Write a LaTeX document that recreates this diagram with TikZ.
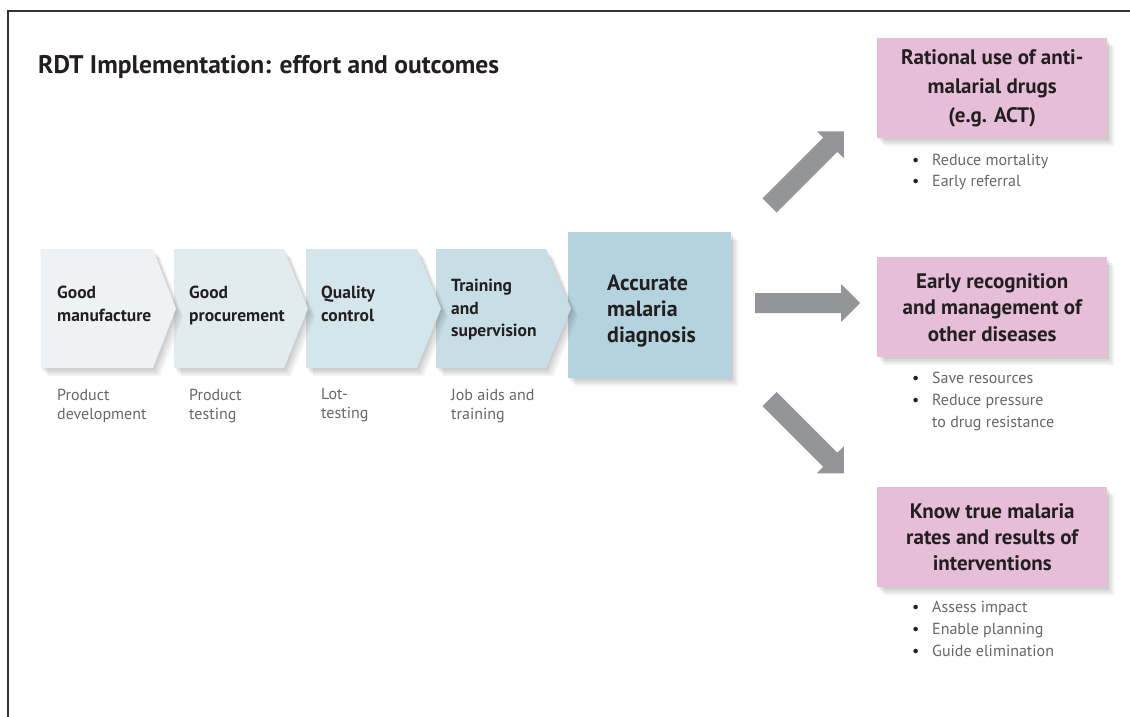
\documentclass[tikz,border=0pt]{standalone}
\usepackage{fontspec}
\setmainfont{PT Sans}
\definecolor{cA}{HTML}{EEF2F5}
\definecolor{cB}{HTML}{E2EBF0}
\definecolor{cC}{HTML}{D5E5EC}
\definecolor{cD}{HTML}{C8DEE6}
\definecolor{cBox}{HTML}{B3D4DF}
\definecolor{pinkc}{HTML}{E6BED8}
\definecolor{arrowgray}{HTML}{939598}
\definecolor{darktxt}{HTML}{231F20}
\definecolor{lighttxt}{HTML}{66676A}
\definecolor{framec}{HTML}{333333}
\tikzset{
  shad/.style={
    preaction={fill=black, fill opacity=0.05, transform canvas={xshift=7pt,yshift=-8pt}},
    preaction={fill=black, fill opacity=0.05, transform canvas={xshift=5pt,yshift=-6pt}},
    preaction={fill=black, fill opacity=0.05, transform canvas={xshift=3pt,yshift=-4pt}},
    preaction={fill=black, fill opacity=0.05, transform canvas={xshift=1.5pt,yshift=-2pt}}},
  steptext/.style={anchor=north west, inner sep=0pt, align=left, text=darktxt, font=\fontsize{17.5}{22.5}\selectfont\bfseries},
  sublabel/.style={anchor=north west, inner sep=0pt, align=left, text=lighttxt, font=\fontsize{16}{19}\selectfont},
  pinkbox/.style={fill=pinkc, shad, minimum width=230pt, minimum height=100pt, anchor=north west, inner sep=0pt, align=center, text=darktxt},
  bullets/.style={anchor=north west, inner sep=0pt, align=left, text=lighttxt},
  fatarrow/.pic={\fill[arrowgray] (0,-10) -- (86,-10) -- (86,-19) -- (105,0) -- (86,19) -- (86,10) -- (0,10) -- cycle;}
}
\newcommand{\bul}{\makebox[20pt][l]{\textcolor{darktxt}{\textbullet}}}
\begin{document}
\begin{tikzpicture}[x=1pt,y=-1pt]
\useasboundingbox (0,0) rectangle (1130,717);
\fill[white] (0,0) rectangle (1130,717);
% frame
\draw[line width=1.3pt, framec] (8,717) -- (8,11) -- (1130,11);
% title
\node[anchor=base west, inner sep=0pt, text=darktxt, font=\fontsize{25.5}{30}\selectfont\bfseries] (title) at (38,74) {RDT Implementation: effort and outcomes};
% diagnosis box
\node[fill=cBox, shad, minimum width=163pt, minimum height=146pt, anchor=north west, inner sep=0pt] (acc) at (568,232) {};
\node[anchor=west, inner sep=0pt, align=left, text=darktxt, font=\fontsize{22}{26}\selectfont\bfseries] (acctext) at (607,311) {Accurate\\malaria\\diagnosis};
% chevrons (drawn right to left so tips overlap)
\fill[cD, shad] (436,249) -- (546,249) -- (571,308.5) -- (546,368) -- (436,368) -- cycle;
\fill[cC, shad] (306,249) -- (417,249) -- (441,308.5) -- (417,368) -- (306,368) -- cycle;
\fill[cB, shad] (174,249) -- (284,249) -- (308,308.5) -- (284,368) -- (174,368) -- cycle;
\fill[cA, shad] (40.5,249) -- (153,249) -- (176,308.5) -- (153,368) -- (40.5,368) -- cycle;
\node[steptext] (t1) at (57,286) {Good\\manufacture};
\node[steptext] (t2) at (189,286) {Good\\procurement};
\node[steptext] (t3) at (321,286) {Quality\\control};
\node[steptext] (t4) at (451,279) {Training\\and\\supervision};
\node[sublabel] (l1) at (57,388.5) {Product\\development};
\node[sublabel] (l2) at (189,388.5) {Product\\testing};
\node[sublabel] (l3) at (321,388.5) {Lot-\\testing};
\node[sublabel] (l4) at (451,388.5) {Job aids and\\training};
% block arrows
\pic[rotate=45] at (769.5,205.5) {fatarrow};
\pic at (755,303) {fatarrow};
\pic[rotate=-45] at (769.5,399) {fatarrow};
% outcome boxes
\node[pinkbox, font=\fontsize{21}{29}\selectfont\bfseries] (p1) at (877,38) {Rational use of anti-\\malarial drugs\\(e.g. ACT)};
\node[pinkbox, font=\fontsize{21}{26.5}\selectfont\bfseries] (p2) at (877,257) {Early recognition\\and management of\\other diseases};
\node[pinkbox, font=\fontsize{21}{26}\selectfont\bfseries] (p3) at (877,487) {Know true malaria\\rates and results of\\interventions};
\node[bullets, font=\fontsize{16}{21}\selectfont] (b1) at (912,154) {\bul Reduce mortality\\\bul Early referral};
\node[bullets, font=\fontsize{16}{22}\selectfont] (b2) at (912,371.5) {\bul Save resources\\\bul Reduce pressure\\\makebox[20pt]{}to drug resistance};
\node[bullets, font=\fontsize{16}{22}\selectfont] (b3) at (912,601) {\bul Assess impact\\\bul Enable planning\\\bul Guide elimination};
\end{tikzpicture}
\end{document}
